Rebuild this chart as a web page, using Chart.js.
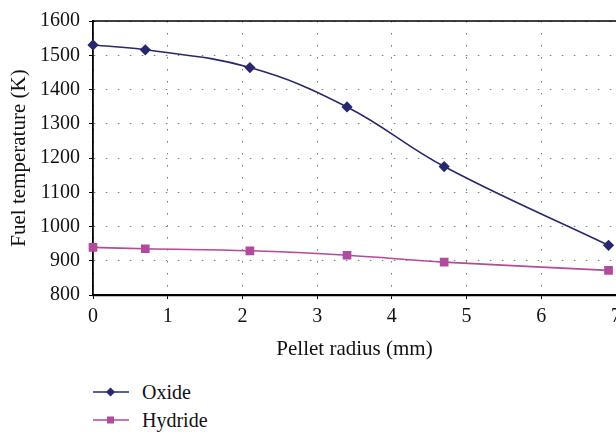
<!DOCTYPE html>
<html>
<head>
<meta charset="utf-8">
<script src="https://cdn.jsdelivr.net/npm/chart.js@4.4.1/dist/chart.umd.min.js"></script>
<style>
  html, body { margin: 0; padding: 0; background: #fff; overflow: hidden; }
  #wrap { position: relative; width: 616px; height: 434px; overflow: hidden; }
  #box { position: absolute; left: 0; top: 0; width: 640px; height: 372px; }
  #legend { position: absolute; left: 93px; top: 378px; font-family: "Liberation Serif", serif; font-size: 20px; color: #111; }
  #legend .row { display: flex; align-items: center; height: 28px; }
  #legend svg { width: 36px; height: 14px; margin-right: 13px; }
</style>
</head>
<body>
<div id="wrap">
  <div id="box"><canvas id="chart" width="640" height="372"></canvas></div>
  <div id="legend"></div>
</div>
<script>
// Pellet radius (mm) and fuel temperature (K)
const radius = [0, 0.7, 2.1, 3.4, 4.7, 6.9];
const oxideTemp = [1530, 1516, 1464, 1349, 1175, 945];
const hydrideTemp = [939, 935, 929, 916, 896, 872];

const OXIDE_COLOR = '#28286f';
const HYDRIDE_COLOR = '#b24a9d';
const FONT = '"Liberation Serif", serif';

function toPoints(xs, ys) {
    return xs.map((x, i) => ({ x: x, y: ys[i] }));
}

/* Solid frame line along the top of the plot */
const topFrame = {
    id: 'topFrame',
    afterDraw(chart) {
        const { ctx, chartArea } = chart;
        ctx.save();
        ctx.strokeStyle = '#000';
        ctx.lineWidth = 1.5;
        ctx.beginPath();
        ctx.moveTo(chartArea.left, chartArea.top);
        ctx.lineTo(chartArea.right, chartArea.top);
        ctx.stroke();
        ctx.restore();
    }
};

const series = [
    { label: 'Oxide', data: toPoints(radius, oxideTemp), color: OXIDE_COLOR, style: 'rectRot', r: 4.5 },
    { label: 'Hydride', data: toPoints(radius, hydrideTemp), color: HYDRIDE_COLOR, style: 'rect', r: 5 }
];

new Chart(document.getElementById('chart').getContext('2d'), {
    type: 'line',
    data: {
        datasets: series.map(s => ({
            label: s.label,
            data: s.data,
            borderColor: s.color,
            backgroundColor: s.color,
            borderWidth: 1.6,
            pointStyle: s.style,
            pointRadius: s.r,
            pointHoverRadius: s.r,
            fill: false,
            tension: 0.4,
            clip: false
        }))
    },
    options: {
        animation: false,
        responsive: false,
        layout: { padding: { top: 14, right: 24, bottom: 0, left: 0 } },
        plugins: { legend: { display: false }, tooltip: { enabled: false } },
        scales: {
            x: {
                type: 'linear',
                min: 0,
                max: 7,
                afterFit: s => { s.height = 77; },
                ticks: { stepSize: 1, color: '#111', font: { family: FONT, size: 20 }, padding: 6, maxRotation: 0 },
                grid: { color: '#7a7a7a', lineWidth: 1, tickLength: 4, tickColor: '#000' },
                border: { color: '#000', width: 2.2, dash: [1.5, 10.5] },
                title: { display: true, text: 'Pellet radius (mm)', color: '#111', font: { family: FONT, size: 21 }, padding: { top: 4, bottom: 10 } }
            },
            y: {
                min: 800,
                max: 1600,
                afterFit: s => { s.width = 93; },
                ticks: { stepSize: 100, color: '#111', font: { family: FONT, size: 20 }, padding: 9, callback: v => String(v) },
                grid: { color: '#7a7a7a', lineWidth: 1, tickLength: 4, tickColor: '#000' },
                border: { color: '#000', width: 1.8, dash: [1.5, 10.5] },
                title: { display: true, text: 'Fuel temperature (K)', color: '#111', font: { family: FONT, size: 21 }, padding: { top: 7, bottom: 4 } }
            }
        }
    },
    plugins: [topFrame]
});

// Legend rows below the chart
const legend = document.getElementById('legend');
series.forEach(s => {
    const marker = s.style === 'rect'
        ? '<rect x="14" y="3.5" width="7" height="7" fill="' + s.color + '"/>'
        : '<polygon points="17.5,2.5 22,7 17.5,11.5 13,7" fill="' + s.color + '"/>';
    const row = document.createElement('div');
    row.className = 'row';
    row.innerHTML = '<svg viewBox="0 0 36 14"><line x1="0" y1="7" x2="36" y2="7" stroke="' + s.color +
        '" stroke-width="1.6"/>' + marker + '</svg><span>' + s.label + '</span>';
    legend.appendChild(row);
});
</script>
</body>
</html>
